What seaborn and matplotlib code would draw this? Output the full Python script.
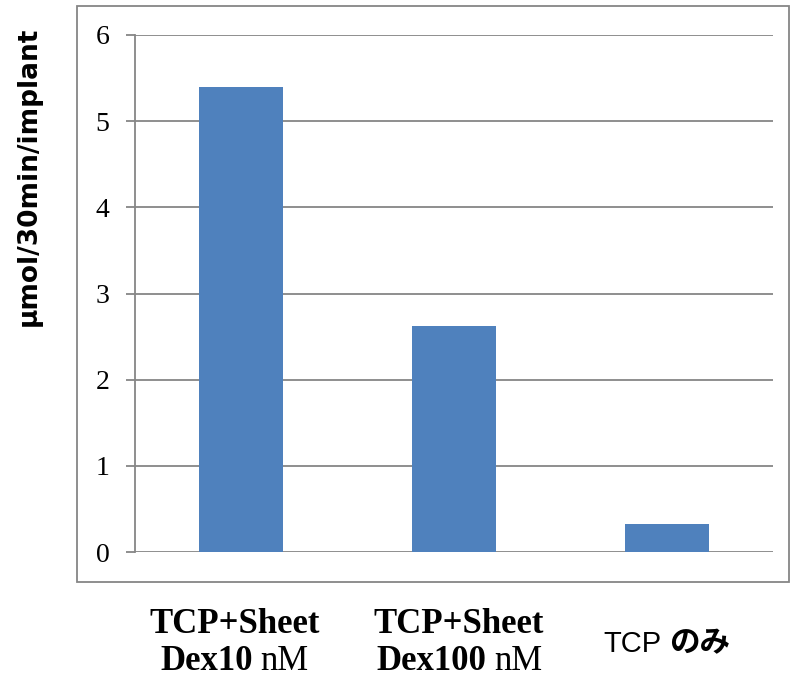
import pandas as pd
import matplotlib
matplotlib.use("Agg")
import matplotlib.pyplot as plt
import matplotlib.font_manager as fm
import seaborn as sns
from matplotlib.patches import Rectangle

# datos
categorias = ["TCP+Sheet Dex10 nM", "TCP+Sheet Dex100 nM", "TCP のみ"]
valores = [5.4, 2.62, 0.33]
ticks_y = [0, 1, 2, 3, 4, 5, 6]
etiqueta_y = "μmol/30min/implant"

W, H = 792, 680
AZUL = "#4F81BD"
GRIS = "#868686"
SERIF = ["Liberation Serif", "DejaVu Serif"]
SANS_JP = ["Noto Sans CJK JP", "DejaVu Sans"]
nombres = {f.name for f in fm.fontManager.ttflist}
NARROW = "Liberation Sans Narrow" if "Liberation Sans Narrow" in nombres else "Liberation Sans"

sns.set_theme(style="white")
plt.rcParams["font.family"] = SANS_JP
plt.rcParams["text.color"] = "black"
plt.rcParams["ytick.color"] = "black"

df = pd.DataFrame({"grupo": categorias, "valor": valores})

fig = plt.figure(figsize=(W / 100, H / 100), dpi=100)
fig.patch.set_facecolor("white")

# marco exterior del grafico
fig.patches.append(Rectangle((77 / W, 1 - 582 / H), (789 - 77) / W, (582 - 6) / H,
                             transform=fig.transFigure, fill=False,
                             edgecolor=GRIS, linewidth=1.3))

ax = fig.add_axes([135 / W, 1 - 552 / H, (773 - 135) / W, (552 - 35) / H])
sns.barplot(data=df, x="grupo", y="valor", color=AZUL, saturation=1,
            width=0.395, edgecolor="none", ax=ax)

ax.set_xlim(-0.5, 2.5)
ax.set_ylim(0, 6)
ax.set_yticks(ticks_y)
ax.set_yticklabels([str(t) for t in ticks_y], fontfamily=SERIF, fontsize=20)
ax.yaxis.grid(True, color=GRIS, linewidth=1.3)
ax.set_axisbelow(True)
ax.tick_params(axis="y", direction="out", length=6.5, width=1.3, color=GRIS,
               pad=12, left=True, labelcolor="black")
ax.set_xticks([])
ax.set_xlabel("")
ax.set_ylabel("")
for s in ["top", "right", "bottom"]:
    ax.spines[s].set_visible(False)
ax.spines["left"].set_color(GRIS)
ax.spines["left"].set_linewidth(1.3)

fig.text(29 / W, 1 - 176 / H, etiqueta_y, rotation=90, ha="center", va="center",
         fontsize=19, fontweight="bold", family=["DejaVu Sans"], color="black")

# etiquetas del eje x con pesos mezclados, medidas a mano
renderer = fig.canvas.get_renderer()


def linea(partes, cx, y_base, sep):
    """partes: lista de (texto, props); centra la linea en cx (pixeles)"""
    textos = [fig.text(0, 1 - y_base / H, t, va="baseline", ha="left", **p) for t, p in partes]
    anchos = [t.get_window_extent(renderer).width for t in textos]
    total = sum(anchos) + sep * (len(textos) - 1)
    x = cx - total / 2
    for t, w in zip(textos, anchos):
        t.set_x(x / W)
        x += w + sep


bold = dict(family=SERIF, fontweight="bold", fontsize=25, color="black")
normal = dict(family=SERIF, fontweight="normal", fontsize=25, color="black")
centros = ax.transData.transform([(i, 0) for i in range(3)])[:, 0]
desvio = [-7, 5, 0]

for i, dex in enumerate(["Dex10", "Dex100"]):
    cx = centros[i] + desvio[i]
    linea([("TCP+Sheet", bold)], cx, 633, 0)
    linea([(dex, bold), ("nM", normal)], cx, 670, 8)

linea([("TCP", dict(family=[NARROW, "DejaVu Sans"], fontsize=21, color="black")),
       ("のみ", dict(family=SANS_JP, fontsize=22, fontweight="bold", color="black"))],
      centros[2] + desvio[2], 652, 8)

fig.savefig("out.png", dpi=100, facecolor="white")
